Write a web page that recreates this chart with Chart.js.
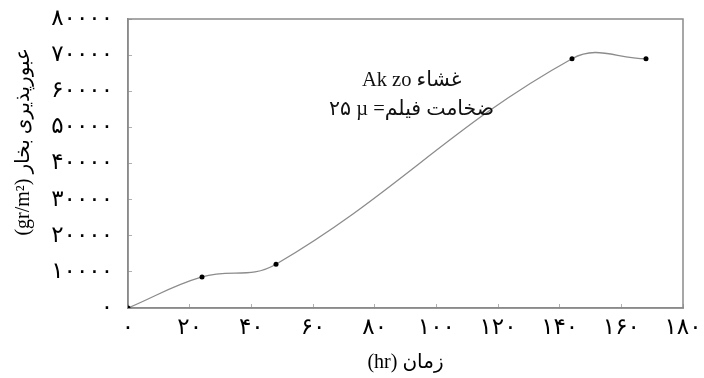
<!DOCTYPE html>
<html dir="ltr"><head><meta charset="utf-8">
<script src="https://cdn.jsdelivr.net/npm/chart.js@4/dist/chart.umd.min.js"></script>
<style>html,body{margin:0;padding:0;background:#fff;overflow:hidden}#wrap{width:704px;height:378px}</style>
</head><body><div id="wrap"><canvas id="c" width="704" height="378"></canvas></div>
<script>
// ---- data ----
const timeHr = [0, 24, 48, 144, 168];
const permeability = [0, 8600, 12100, 69000, 69000];
const xTickValues = [0, 20, 40, 60, 80, 100, 120, 140, 160, 180];
const yTickValues = [0, 10000, 20000, 30000, 40000, 50000, 60000, 70000, 80000];
const xAxisTitle = '(hr) زمان';
const yAxisTitle = '(gr/m²) عبورپذیری بخار';
const noteLines = ['Ak zo غشاء', '۲۵ µ =ضخامت فیلم'];

const faDigits = '۰۱۲۳۴۵۶۷۸۹';
const toFa = v => String(v).replace(/\d/g, d => faDigits[d]);
const serif = "'Liberation Serif', 'DejaVu Sans', serif";
const tickFont = "'DejaVu Sans', 'Liberation Serif', sans-serif";

const framePlugin = {
  id: 'frame',
  beforeDatasetsDraw(chart) {
    const {ctx, chartArea: a} = chart;
    ctx.save();
    ctx.strokeStyle = '#8a8a8a';
    ctx.lineWidth = 1.5;
    ctx.strokeRect(a.left, a.top, a.right - a.left, a.bottom - a.top);
    ctx.restore();
  }
};
const notePlugin = {
  id: 'note',
  afterDatasetsDraw(chart, args, opts) {
    const {ctx, scales} = chart;
    ctx.save();
    ctx.fillStyle = '#111';
    ctx.font = opts.size + 'px ' + serif;
    ctx.textAlign = 'center';
    ctx.textBaseline = 'middle';
    opts.lines.forEach((t, i) => {
      ctx.fillText(t, scales.x.getPixelForValue(opts.x), scales.y.getPixelForValue(opts.y[i]));
    });
    // y axis title
    ctx.fillStyle = '#000';
    ctx.font = opts.titleSize + 'px ' + serif;
    ctx.translate(opts.yTitleX, scales.y.getPixelForValue(opts.yTitleAt));
    ctx.rotate(-Math.PI / 2);
    ctx.fillText(yAxisTitle, 0, 0);
    ctx.restore();
  }
};

new Chart(document.getElementById('c'), {
  type: 'line',
  data: {
    labels: timeHr,
    datasets: [{
      data: timeHr.map((t, i) => ({x: t, y: permeability[i]})),
      borderColor: '#8c8c8c',
      borderWidth: 1.3,
      tension: 0.4,
      pointRadius: 2.5,
      pointBackgroundColor: '#000',
      pointBorderColor: '#000',
      pointBorderWidth: 0,
      fill: false
    }]
  },
  options: {
    responsive: false,
    animation: false,
    devicePixelRatio: 1,
    layout: {padding: {top: 19, right: 21, left: 0, bottom: 0}},
    plugins: {
      legend: {display: false},
      tooltip: {enabled: false},
      note: {lines: noteLines, x: 92, y: [62900, 54800], size: 20.5, titleSize: 20, yTitleX: 24, yTitleAt: 46000}
    },
    scales: {
      x: {
        type: 'linear', min: 0, max: 180,
        afterBuildTicks: s => { s.ticks = xTickValues.map(v => ({value: v})); },
        afterFit: s => { s.height = 70; s.paddingLeft = 0; s.paddingRight = 0; },
        grid: {display: true, drawOnChartArea: false, drawTicks: true, tickLength: -4, color: '#b0b0b0'},
        border: {display: true, color: '#8a8a8a', width: 1.5},
        ticks: {callback: v => toFa(v), color: '#000', font: {family: tickFont, size: 23}, padding: 10, maxRotation: 0, autoSkip: false},
        title: {display: true, text: xAxisTitle, color: '#000', font: {family: serif, size: 20}, padding: {top: 0, bottom: 3}}
      },
      y: {
        type: 'linear', min: 0, max: 80000,
        afterBuildTicks: s => { s.ticks = yTickValues.map(v => ({value: v})); },
        afterFit: s => { s.width = 128; s.paddingTop = 0; s.paddingBottom = 0; },
        grid: {display: true, drawOnChartArea: false, drawTicks: true, tickLength: -4, color: '#b0b0b0'},
        border: {display: true, color: '#8a8a8a', width: 1.5},
        ticks: {callback: v => toFa(v), color: '#000', font: {family: tickFont, size: 23}, padding: 19, autoSkip: false},
        title: {display: false}
      }
    }
  },
  plugins: [framePlugin, notePlugin]
});
</script>
</body></html>
